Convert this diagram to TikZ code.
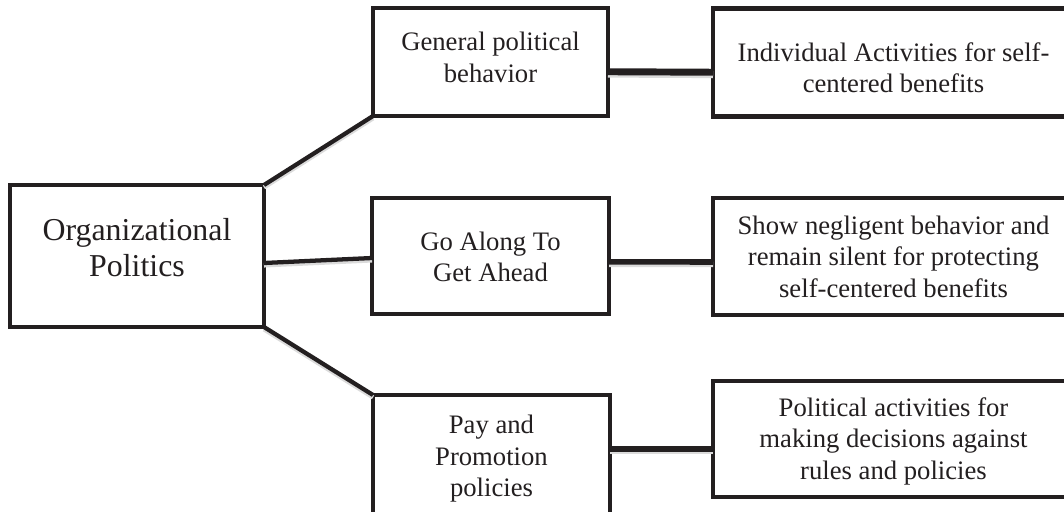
\documentclass[tikz,border=0pt]{standalone}
\usepackage{fontspec}
\setmainfont{Liberation Serif}
\begin{document}
\begin{tikzpicture}[x=0.75pt,y=-0.75pt,
  ink/.style={draw=inkcol},
  box/.style={ink, line width=3.5pt, rectangle, inner sep=0pt, outer sep=0pt, fill=white},
  txt/.style={align=center, inner sep=0pt, text=inkcol, font=\fontsize{20}{23.6}\selectfont},
  bigtxt/.style={align=center, inner sep=0pt, text=inkcol, font=\fontsize{23.9}{27.2}\selectfont},
  link/.style={ink, line width=#1, line cap=butt,
    preaction={draw=black!14, line width=#1, transform canvas={yshift=-1.8pt}}},
  link/.default=3.2pt]
\definecolor{inkcol}{RGB}{35,31,32}
\useasboundingbox (0,0) rectangle (1064,511);
\clip (0,0) rectangle (1064,511);

% boxes
\node[box, minimum width=190.5pt, minimum height=106.5pt] (main) at (137,256) {};
\node[box, minimum width=176.25pt, minimum height=81pt] (general) at (490.5,62) {};
\node[box, minimum width=177.75pt, minimum height=87pt] (goalong) at (490.5,256) {};
\node[box, minimum width=177.75pt, minimum height=93pt] (pay) at (491.5,457) {};
\node[box, minimum width=270.75pt, minimum height=81pt] (indiv) at (893.5,62.5) {};
\node[box, minimum width=270.75pt, minimum height=87.75pt] (show) at (893.5,256.5) {};
\node[box, minimum width=270.75pt, minimum height=87pt] (political) at (893.5,439) {};

% texts
\node[bigtxt] (main-text) at ([yshift=6.5pt]main.center) {Organizational\\Politics};
\node[txt] (general-text) at ([yshift=3.5pt]general.center) {General political\\behavior};
\node[txt] (goalong-text) at ([yshift=-0.5pt]goalong.center) {Go Along To\\Get Ahead};
\node[txt] (pay-text) at ([yshift=-1.2pt]pay.center) {Pay and\\Promotion\\policies};
\node[txt] (indiv-text) at ([yshift=-4pt]indiv.center) {Individual Activities for self-\\centered benefits};
\node[txt] (show-text) at (show.center) {Show negligent behavior and\\remain silent for protecting\\self-centered benefits};
\node[txt] (political-text) at ([yshift=-1.5pt]political.center) {Political activities for\\making decisions against\\rules and policies};

% connectors
\draw[link] (main.north east) -- (general.south west);
\draw[link] ([yshift=-5.25pt]main.east) -- ([yshift=-1.5pt]goalong.west);
\draw[link] (main.south east) -- (pay.north west);
\draw[link=5.2pt] ([yshift=-7.3pt]general.east) -- ([yshift=-7.3pt]indiv.west);
\draw[link=4.2pt] ([yshift=-4.4pt]goalong.east) -- ([yshift=-4.1pt]show.west);
\draw[link=4pt] ([yshift=6pt]pay.east) -- ([yshift=-7.5pt]political.west);
\end{tikzpicture}
\end{document}
